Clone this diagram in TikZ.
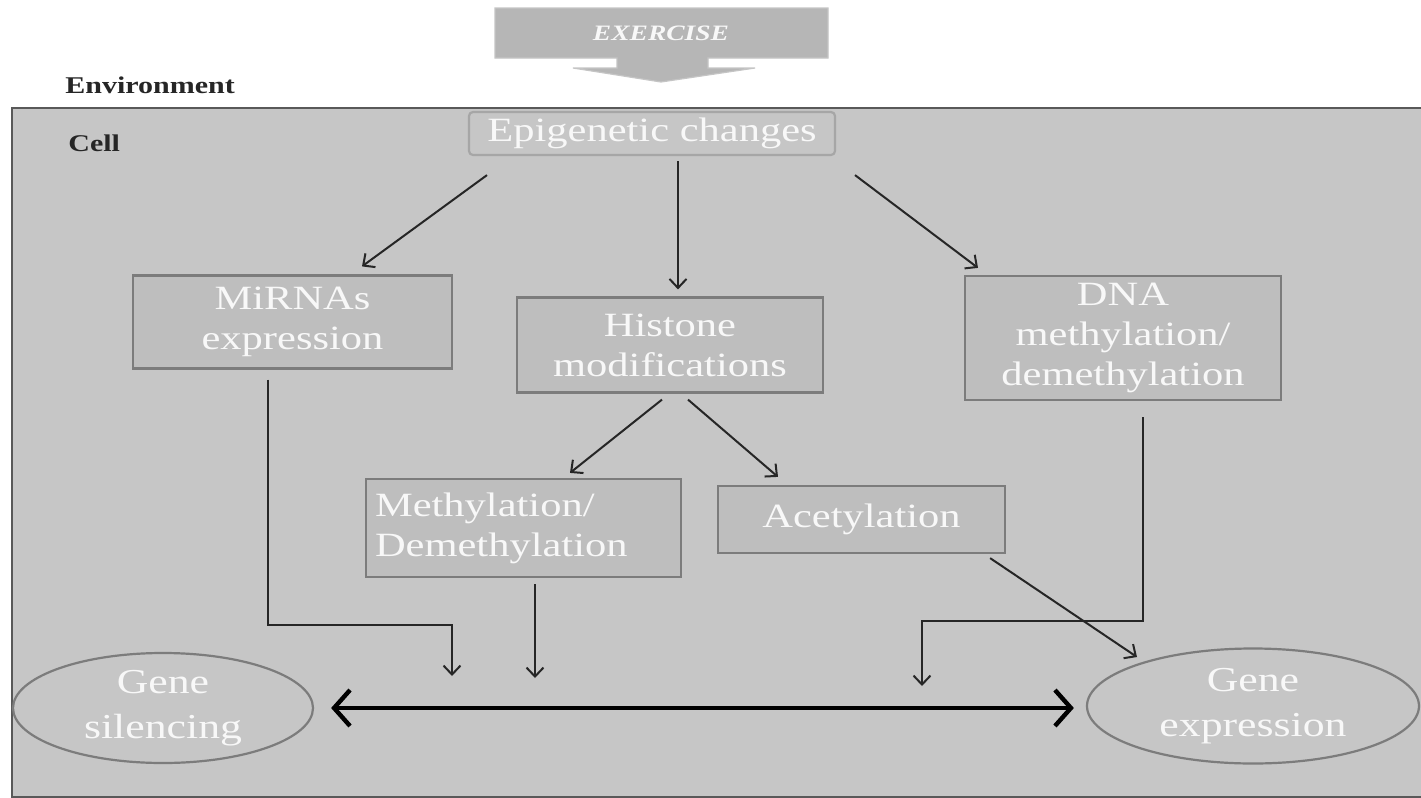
\documentclass[tikz,border=0pt]{standalone}
\usepackage{fontspec}
\setmainfont{Liberation Serif}[FakeStretch=1.25]
\usetikzlibrary{arrows.meta,shapes.geometric,calc}
\definecolor{cellbg}{HTML}{C6C6C6}
\definecolor{boxfill}{HTML}{BEBEBE}
\definecolor{boxline}{HTML}{7C7C7C}
\definecolor{boxtext}{HTML}{F8F8F8}
\definecolor{exfill}{HTML}{B6B6B6}
\begin{document}
\begin{tikzpicture}[x=0.5pt,y=-0.5pt,
  box/.style={draw=boxline, fill=boxfill, line width=1.1pt, text=boxtext,
    font=\fontsize{17}{20}\selectfont, align=center, inner sep=0pt},
  oval/.style={ellipse, draw=boxline, line width=1.1pt, text=boxtext,
    font=\fontsize{17.5}{22.5}\selectfont, align=center, inner sep=0pt},
  arr/.style={draw=black!85, line width=1pt, -{Straight Barb[length=4.5pt,width=8.5pt]}},
  bigarr/.style={draw=black, line width=2.2pt, {Straight Barb[length=8pt,width=18pt]}-{Straight Barb[length=8pt,width=18pt]}},
  lbl/.style={font=\bfseries\fontsize{12}{14}\selectfont, text=black!85, inner sep=0pt}]
\useasboundingbox (0,0) rectangle (1421,798);
\fill[white] (0,0) rectangle (1421,798);
% cell
\filldraw[fill=cellbg, draw=black!65, line width=1pt] (12,108) rectangle (1424,797);
% exercise arrow
\filldraw[fill=exfill, draw=exfill!80!white, line width=0.6pt]
  (495,8) -- (828,8) -- (828,58) -- (708,58) -- (708,68) -- (755,68) -- (661,82)
  -- (573,68) -- (617,68) -- (617,58) -- (495,58) -- cycle;
\node[font=\bfseries\itshape\fontsize{11}{13}\selectfont, text=boxtext] (ex) at (661,33) {EXERCISE};
% labels
\node[lbl, anchor=west] (env) at (65,85) {Environment};
\node[lbl, anchor=west] (cell) at (68,143) {Cell};
% boxes
\node[box, rounded corners=2pt, draw=black!35, fill=cellbg, minimum width=183pt, minimum height=21.5pt] (epi) at (652,133.5) {Epigenetic changes};
\node[box, minimum width=159.5pt, minimum height=46.5pt] (mir) at (292.5,322) {MiRNAs\\expression};
\node[box, minimum width=153pt, minimum height=47.5pt] (his) at (670,345) {Histone\\modifications};
\node[box, minimum width=158pt, minimum height=62pt] (dna) at (1123,338) {DNA\\methylation/\\demethylation};
\node[box, align=left, text width=148.5pt, minimum width=157.5pt, minimum height=49pt] (meth) at (523.5,528) {Methylation/\\Demethylation};
\node[box, minimum width=143.5pt, minimum height=33.5pt] (acet) at (861.5,519.5) {Acetylation};
\node[oval, minimum width=150pt, minimum height=55pt] (sil) at (163,708) {Gene\\silencing};
\node[oval, minimum width=166pt, minimum height=57.5pt] (expr) at (1253,706) {Gene\\expression};
% arrows from epigenetic changes
\draw[arr] ($(epi.south)+(-165,19)$) -- ($(mir.north)+(69.5,-8)$);
\draw[arr] ($(epi.south)+(26,5)$) -- ($(his.north)+(8,-7)$);
\draw[arr] ($(epi.south)+(203,19)$) -- ($(dna.north)+(-145,-7)$);
% histone
\draw[arr] ($(his.south)+(-8,6)$) -- ($(meth.north)+(46.5,-5)$);
\draw[arr] ($(his.south)+(18,6)$) -- ($(acet.north)+(-83.5,-8)$);
% to bottom
\coordinate (c1) at (452,676);
\coordinate (c2) at (535,678);
\coordinate (c3) at (922,686);
\draw[arr] ($(mir.south)+(-24.5,10)$) |- (452,625) -- (c1);
\draw[arr] ($(meth.south)+(11.5,6)$) -- (c2);
\draw[arr] ($(dna.south)+(20,16)$) |- (922,621) -- (c3);
\draw[arr] ($(acet.south east)+(-16,4)$) -- ($(expr.center)+(-116,-49)$);
% double arrow
\draw[bigarr] ($(sil.east)+(17,0)$) -- ($(expr.west)+(-12,2)$);
\end{tikzpicture}
\end{document}
